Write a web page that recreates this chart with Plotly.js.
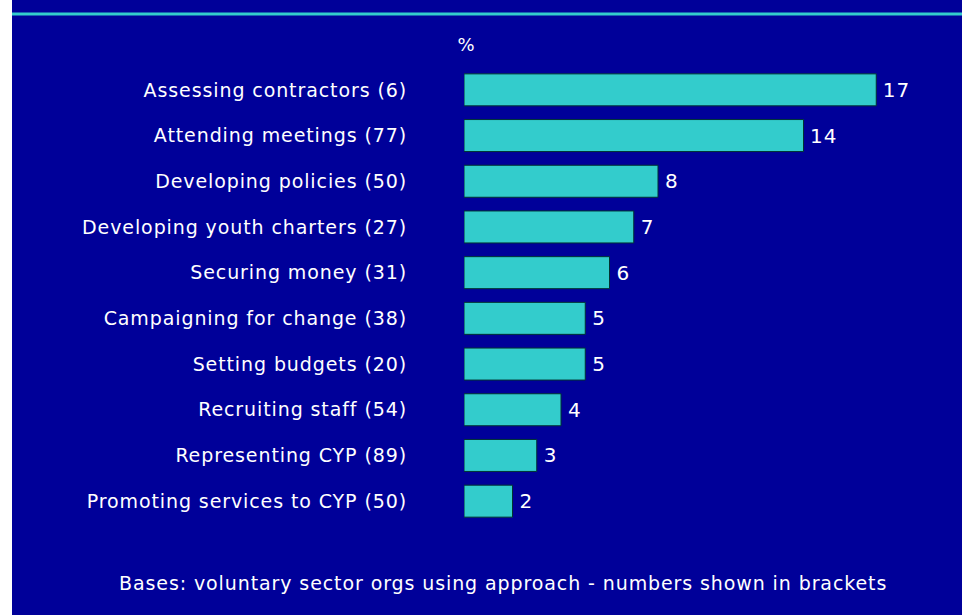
<!DOCTYPE html>
<html>
<head>
<meta charset="utf-8">
<script src="https://cdn.plot.ly/plotly-3.0.1.min.js"></script>
<style>
html,body{margin:0;padding:0;background:#fff;}
#chart{width:962px;height:615px;}
#chart .main-svg text{letter-spacing:0.9px;}
</style>
</head>
<body>
<div id="chart"></div>
<script>
var categories = [
  "Assessing contractors (6)",
  "Attending meetings (77)",
  "Developing policies (50)",
  "Developing youth charters (27)",
  "Securing money (31)",
  "Campaigning for change (38)",
  "Setting budgets (20)",
  "Recruiting staff (54)",
  "Representing CYP (89)",
  "Promoting services to CYP (50)"
];
var percentages = [17, 14, 8, 7, 6, 5, 5, 4, 3, 2];
var unitLabel = "%";
var footnote = "Bases: voluntary sector orgs using approach - numbers shown in brackets";

var W = 962, H = 615;
var L = 464, R = 13, T = 67, B = 91;
var pw = W - L - R, ph = H - T - B;
function px(p){ return (p - L) / pw; }
function py(p){ return (H - B - p) / ph; }

var trace = {
  type: 'bar',
  orientation: 'h',
  y: categories,
  x: percentages,
  width: 0.7,
  marker: {color: '#33CCCC', line: {color: '#003333', width: 1}},
  text: percentages.map(function(v){ return '\u2009' + v; }),
  textposition: 'outside',
  cliponaxis: false,
  textfont: {family: 'DejaVu Sans', size: 20, color: '#ffffff'},
  hoverinfo: 'none'
};

var layout = {
  width: W, height: H,
  margin: {l: L, r: R, t: T, b: B, pad: 0},
  paper_bgcolor: '#000099',
  plot_bgcolor: '#000099',
  showlegend: false,
  xaxis: {range: [0, 20], visible: false, fixedrange: true},
  yaxis: {
    autorange: 'reversed',
    showgrid: false, zeroline: false, showline: false, ticks: '',
    ticklabelstandoff: 56,
    tickfont: {family: 'DejaVu Sans', size: 19, color: '#ffffff'}
  },
  shapes: [
    {type: 'rect', xref: 'paper', yref: 'paper', x0: px(0), x1: px(12), y0: py(H), y1: py(0), fillcolor: '#ffffff', line: {width: 0}, layer: 'above'},
    {type: 'line', xref: 'paper', yref: 'paper', x0: px(12), x1: px(W), y0: py(14), y1: py(14), line: {color: '#33CCCC', width: 3}}
  ],
  annotations: [
    {xref: 'paper', yref: 'paper', x: px(466), y: py(44), text: unitLabel, showarrow: false, xanchor: 'center', yanchor: 'middle', font: {family: 'DejaVu Sans', size: 18, color: '#ffffff'}},
    {xref: 'paper', yref: 'paper', x: px(503), y: py(583), text: footnote, showarrow: false, xanchor: 'center', yanchor: 'middle', font: {family: 'DejaVu Sans', size: 19, color: '#ffffff'}}
  ]
};

Plotly.newPlot('chart', [trace], layout, {staticPlot: true, displayModeBar: false});
</script>
</body>
</html>
